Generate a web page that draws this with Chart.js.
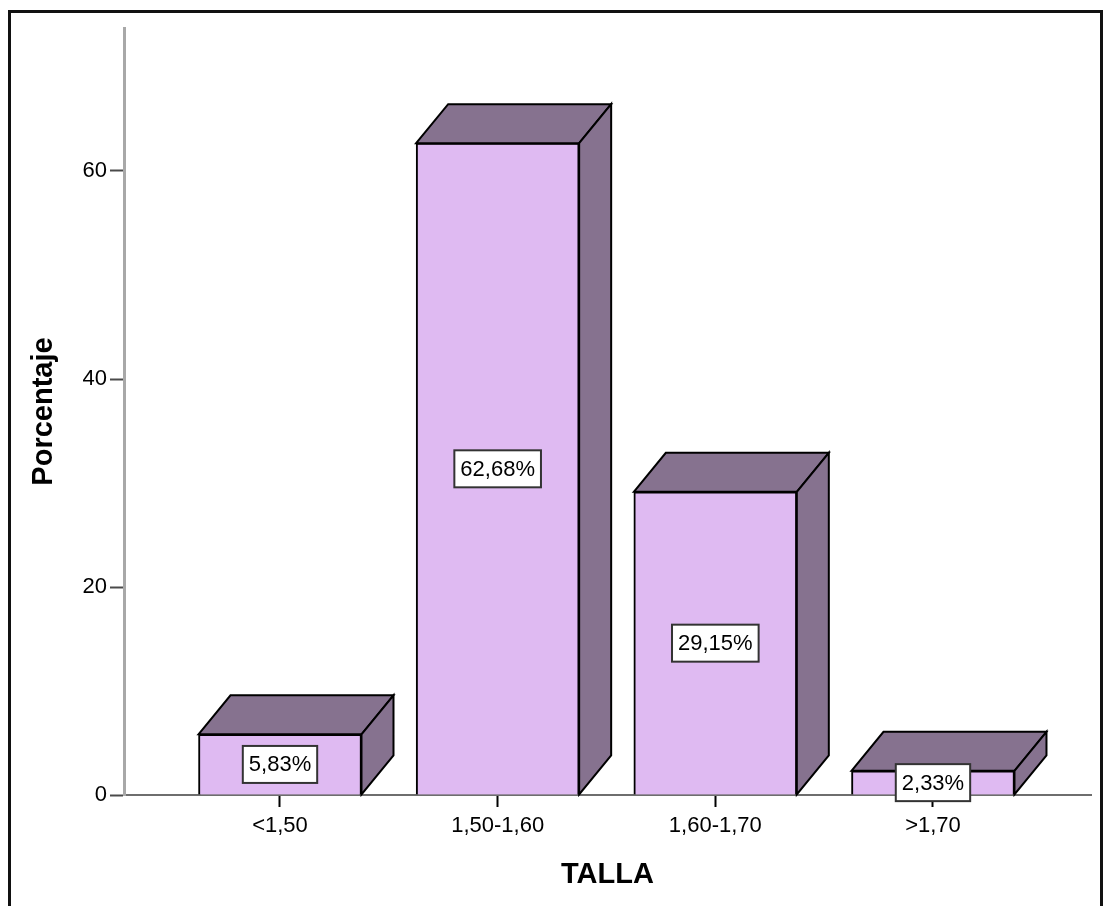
<!DOCTYPE html>
<html>
<head>
<meta charset="utf-8">
<title>TALLA</title>
<script src="https://cdn.jsdelivr.net/npm/chart.js@4/dist/chart.umd.min.js"></script>
<style>
  html, body { margin: 0; padding: 0; background: #fff; }
  #c { display: block; }
</style>
</head>
<body>
<canvas id="c" width="1104" height="906"></canvas>
<script>
// Height classes and their share of the sample (percent)
const categories = ['<1,50', '1,50-1,60', '1,60-1,70', '>1,70'];
const percentages = [5.83, 62.68, 29.15, 2.33];
const yTicks = [0, 20, 40, 60];
const yTitle = 'Porcentaje';
const xTitle = 'TALLA';

const FRONT = '#DFBAF2';
const SHADE = '#86728F';
const DEPTH_X = 32;
const DEPTH_Y = 39;

Chart.defaults.font.family = "'Liberation Sans', Arial, sans-serif";
Chart.defaults.color = '#000';

const fmt = v => v.toFixed(2).replace('.', ',') + '%';

// white page plus the outer black frame
const framePlugin = {
  id: 'frame',
  beforeDraw(chart) {
    const ctx = chart.ctx;
    ctx.save();
    ctx.fillStyle = '#fff';
    ctx.fillRect(0, 0, chart.width, chart.height);
    ctx.strokeStyle = '#111';
    ctx.lineWidth = 3;
    ctx.strokeRect(9.5, 11.5, 1092, 910);
    ctx.restore();
  }
};

// top and right faces of each bar, for the block look
const blockPlugin = {
  id: 'block',
  afterDatasetsDraw(chart) {
    const ctx = chart.ctx;
    const meta = chart.getDatasetMeta(0);
    ctx.save();
    ctx.fillStyle = SHADE;
    ctx.strokeStyle = '#000';
    ctx.lineWidth = 2;
    ctx.lineJoin = 'miter';
    meta.data.forEach(el => {
      const p = el.getProps(['x', 'y', 'base', 'width'], true);
      const l = p.x - p.width / 2, r = p.x + p.width / 2;
      // top face
      ctx.beginPath();
      ctx.moveTo(l, p.y);
      ctx.lineTo(l + DEPTH_X, p.y - DEPTH_Y);
      ctx.lineTo(r + DEPTH_X, p.y - DEPTH_Y);
      ctx.lineTo(r, p.y);
      ctx.closePath();
      ctx.fill();
      ctx.stroke();
      // right face
      ctx.beginPath();
      ctx.moveTo(r, p.y);
      ctx.lineTo(r + DEPTH_X, p.y - DEPTH_Y);
      ctx.lineTo(r + DEPTH_X, p.base - DEPTH_Y);
      ctx.lineTo(r, p.base);
      ctx.closePath();
      ctx.fill();
      ctx.stroke();
    });
    ctx.restore();
  }
};

// boxed value labels in the middle of each bar front
const valueLabelPlugin = {
  id: 'valueLabels',
  afterDraw(chart) {
    const ctx = chart.ctx;
    const meta = chart.getDatasetMeta(0);
    ctx.save();
    ctx.font = "22px 'Liberation Sans', Arial, sans-serif";
    ctx.textAlign = 'center';
    ctx.textBaseline = 'middle';
    meta.data.forEach((el, i) => {
      const p = el.getProps(['x', 'y', 'base'], true);
      const cy = (p.y + p.base) / 2;
      const txt = fmt(percentages[i]);
      const w = ctx.measureText(txt).width + 12;
      const h = 37;
      ctx.fillStyle = '#fff';
      ctx.fillRect(p.x - w / 2, cy - h / 2, w, h);
      ctx.strokeStyle = '#333';
      ctx.lineWidth = 2;
      ctx.strokeRect(p.x - w / 2, cy - h / 2, w, h);
      ctx.fillStyle = '#000';
      ctx.fillText(txt, p.x, cy + 1);
    });
    ctx.restore();
  }
};

new Chart(document.getElementById('c'), {
  type: 'bar',
  data: {
    datasets: [{
      data: percentages.map((v, i) => ({ x: i, y: v })),
      backgroundColor: FRONT,
      borderColor: '#000',
      borderWidth: 2,
      barThickness: 163
    }]
  },
  options: {
    responsive: false,
    animation: false,
    devicePixelRatio: 1,
    layout: { padding: { top: 28, right: 13, left: 0, bottom: 0 } },
    plugins: { legend: { display: false }, tooltip: { enabled: false } },
    scales: {
      x: {
        type: 'linear',
        offset: false,
        min: -0.7167,
        max: 3.726,
        afterBuildTicks: s => { s.ticks = categories.map((c, i) => ({ value: i })); },
        afterFit: s => { s.height = 111; },
        ticks: {
          callback: v => categories[v],
          font: { size: 22 },
          color: '#000',
          padding: 6,
          maxRotation: 0,
          autoSkip: false
        },
        grid: {
          offset: false,
          drawOnChartArea: false,
          drawTicks: true,
          tickLength: 12,
          tickColor: '#000',
          tickWidth: 2
        },
        border: { color: '#6e6e6e', width: 2 },
        title: {
          display: true,
          text: xTitle,
          font: { size: 29, weight: 'bold', lineHeight: 1 },
          color: '#000',
          padding: { top: 0, bottom: 17 }
        }
      },
      y: {
        min: 0,
        max: 73.75,
        afterBuildTicks: s => { s.ticks = yTicks.map(v => ({ value: v })); },
        afterFit: s => { s.width = 124; },
        ticks: {
          font: { size: 22 },
          color: '#000',
          padding: 3
        },
        grid: {
          drawOnChartArea: false,
          drawTicks: true,
          tickLength: 14,
          tickColor: '#4a4a4a',
          tickWidth: 2
        },
        border: { color: '#a8a8a8', width: 3 },
        title: {
          display: true,
          text: yTitle,
          font: { size: 29, weight: 'bold', lineHeight: 1 },
          color: '#000',
          padding: { top: 29, bottom: 0 }
        }
      }
    }
  },
  plugins: [framePlugin, blockPlugin, valueLabelPlugin]
});
</script>
</body>
</html>
